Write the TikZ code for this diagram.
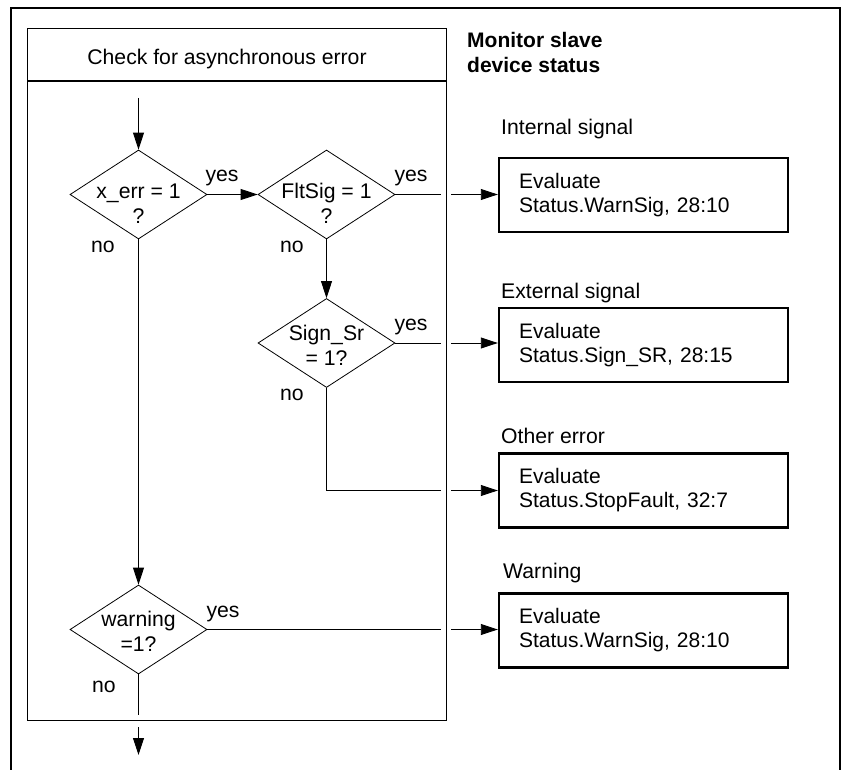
\documentclass[tikz,border=0pt]{standalone}
\usepackage{fontspec}
\setmainfont{Liberation Sans}
\usetikzlibrary{shapes.geometric,arrows.meta}
\begin{document}
\begin{tikzpicture}[x=1pt,y=-1pt,
  font=\fontsize{21.2}{25}\selectfont,
  dia/.style={diamond, draw, line width=0.8pt, minimum width=137pt, minimum height=89pt, inner sep=0pt},
  dtext/.style={align=center, inner sep=0pt},
  ebox/.style={draw, line width=2.4pt, minimum width=289pt, minimum height=74pt, text width=249pt, inner xsep=20pt, inner ysep=0pt, align=left, font=\fontsize{21}{24}\selectfont},
  lbl/.style={anchor=base west, inner sep=0pt},
  yn/.style={anchor=base, inner sep=0pt},
  con/.style={line width=0.9pt},
  arr/.style={con, -{Triangle[length=17pt,width=11pt]}},
  frame/.style={line width=1.1pt},
]
\useasboundingbox (0,0) rectangle (849,770);

% outer frame
\draw[frame] (11,770) -- (11,8) -- (840,8) -- (840,770);
% inner box with header
\node[draw, frame, anchor=north west, minimum width=419pt, minimum height=692pt, inner sep=0pt] (inner) at (27,28) {};
\draw[frame] (27,81) -- (446,81);
\node[yn] (title) at (227,65) {Check for asynchronous error};
\node[anchor=north west, align=left, inner sep=0pt, font=\bfseries\fontsize{21}{25.5}\selectfont] (monitor) at (467,32) {Monitor slave\\device status};

% diamonds
\node[dia] (d1) at (138.5,194.5) {};
\node[dtext] (t1) at (138.5,203.5) {x\_err = 1\\?};
\node[dia] (d2) at (326.5,194.5) {};
\node[dtext] (t2) at (326.5,203.5) {FltSig = 1\\?};
\node[dia] (d3) at (326.5,343) {};
\node[dtext] (t3) at (326.5,345) {Sign\_Sr\\= 1?};
\node[dia] (d4) at (138.5,629.5) {};
\node[dtext] (t4) at (138.5,631.5) {warning\\=1?};

% result boxes
\node[ebox] (b1) at (643.5,195) {Evaluate\\Status.WarnSig, 28:10};
\node[ebox] (b2) at (643.5,345) {Evaluate\\Status.Sign\_SR, 28:15};
\node[ebox] (b3) at (643.5,490.5) {Evaluate\\Status.StopFault, 32:7};
\node[ebox] (b4) at (643.5,630.5) {Evaluate\\Status.WarnSig, 28:10};

% box captions
\node[lbl] (c1) at (501,135) {Internal signal};
\node[lbl] (c2) at (501,298.3) {External signal};
\node[lbl] (c3) at (501,443.3) {Other error};
\node[lbl] (c4) at (503,578.3) {Warning};

% yes / no labels
\node[yn] (y1) at (222,182) {yes};
\node[yn] (y2) at (411,182) {yes};
\node[yn] (y3) at (411,330.5) {yes};
\node[yn] (y4) at (223,617.5) {yes};
\node[yn] (n1) at (103,252.3) {no};
\node[yn] (n2) at (292,252.3) {no};
\node[yn] (n3) at (292,400.7) {no};
\node[yn] (n4) at (104,692.3) {no};

% helper coordinates (gaps where lines cross the inner frame)
\coordinate (gl) at (441,0);
\coordinate (gr) at (451,0);
\coordinate (start) at (138.5,98);
\coordinate (bt) at (0,715);
\coordinate (bb) at (0,727);
\coordinate (out) at (138.5,755);

% connectors
\draw[arr] (start) -- (d1.north);
\draw[arr] (d1.east) -- (d2.west);
\draw[arr] (d1.south) -- (d4.north);
\draw[arr] (d2.south) -- (d3.north);

\draw[con] (d2.east) -- (d2.east -| gl);
\draw[arr] (d2.east -| gr) -- (d2.east -| b1.west);

\draw[con] (d3.east) -- (d3.east -| gl);
\draw[arr] (d3.east -| gr) -- (d3.east -| b2.west);

\draw[con] (d3.south) |- (gl |- b3.west);
\draw[arr] (gr |- b3.west) -- (b3.west);

\draw[con] (d4.east) -- (d4.east -| gl);
\draw[arr] (d4.east -| gr) -- (d4.east -| b4.west);

\draw[con] (d4.south) -- (d4.south |- bt);
\draw[arr] (d4.south |- bb) -- (out);
\end{tikzpicture}
\end{document}
